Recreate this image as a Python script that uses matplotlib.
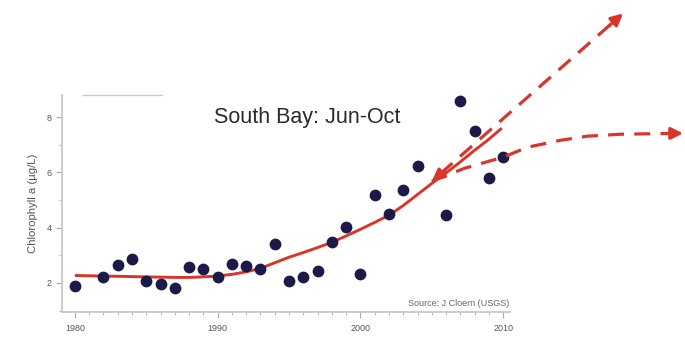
import matplotlib.pyplot as plt
from matplotlib.ticker import MultipleLocator

plt.rcParams['font.family'] = ['Liberation Sans', 'DejaVu Sans']

# yearly Jun-Oct means, South Bay
years = [1980, 1982, 1983, 1984, 1985, 1986, 1987, 1988, 1989, 1990,
         1991, 1992, 1993, 1994, 1995, 1996, 1997, 1998, 1999, 2000,
         2001, 2002, 2003, 2004, 2006, 2007, 2008, 2009, 2010]
chl = [1.88, 2.22, 2.64, 2.88, 2.08, 1.95, 1.82, 2.57, 2.52, 2.2,
       2.67, 2.62, 2.5, 3.41, 2.07, 2.2, 2.43, 3.47, 4.02, 2.34,
       5.18, 4.5, 5.38, 6.23, 4.45, 8.58, 7.5, 5.79, 6.54]

# smoothed trend
fit_years = [1980, 1981, 1982, 1983, 1984, 1985, 1986, 1987, 1988, 1989,
             1990, 1991, 1992, 1993, 1994, 1995, 1996, 1997, 1998, 1999,
             2000, 2001, 2002, 2003, 2004, 2005, 2006, 2007, 2008, 2009, 2009.9]
fit_vals = [2.27, 2.26, 2.25, 2.24, 2.23, 2.22, 2.21, 2.2, 2.2, 2.22,
            2.25, 2.31, 2.4, 2.53, 2.73, 2.93, 3.1, 3.28, 3.47, 3.7,
            3.94, 4.19, 4.45, 4.8, 5.2, 5.6, 5.98, 6.38, 6.8, 7.2, 7.6]

# future scenarios (drawn past the axes)
up_years = [2005.0, 2018.4]
up_vals = [5.68, 11.75]
flat_years = [2005.0, 2007.3, 2010.0, 2011.7, 2014.0, 2015.9, 2018.2, 2022.6]
flat_vals = [5.68, 6.15, 6.55, 6.91, 7.16, 7.31, 7.38, 7.41]

red = '#d8362b'
navy = '#1b1a48'

fig = plt.figure(figsize=(6.85, 3.38), dpi=100)
ax = fig.add_axes([0.0905, 0.077, 0.6545, 0.642])

ax.plot(fit_years, fit_vals, color=red, lw=2.1, zorder=3, solid_capstyle='butt')
ax.scatter(years, chl, s=72, color=navy, zorder=4, linewidths=0)

# dashed scenario lines, heads added separately so they stay solid
slope = (up_vals[1] - up_vals[0]) / (up_years[1] - up_years[0])
dash = dict(color=red, lw=2.3, dashes=(5, 3.2), zorder=5, clip_on=False)
ax.plot([up_years[0] + 0.6, up_years[1] - 0.5],
        [up_vals[0] + 0.6 * slope, up_vals[1] - 0.5 * slope], **dash)
ax.plot(flat_years[:-1] + [flat_years[-1] - 0.5], flat_vals, **dash)
head = dict(arrowstyle='-|>,head_length=0.7,head_width=0.35', color=red, lw=2.3,
            shrinkA=0, shrinkB=0)
ax.annotate('', xy=(up_years[-1], up_vals[-1]),
            xytext=(up_years[-1] - 1.0, up_vals[-1] - slope),
            arrowprops=head, annotation_clip=False, zorder=6)
ax.annotate('', xy=(flat_years[-1], flat_vals[-1]), xytext=(flat_years[-1] - 1.0, flat_vals[-1]),
            arrowprops=head, annotation_clip=False, zorder=6)
ax.annotate('', xy=(flat_years[0], flat_vals[0]), xytext=(flat_years[0] + 0.9, flat_vals[0] + 0.38),
            arrowprops=head, annotation_clip=False, zorder=6)

ax.set_xlim(1979.1, 2010.5)
ax.set_ylim(0.95, 8.8)
ax.xaxis.set_major_locator(MultipleLocator(10))
ax.xaxis.set_minor_locator(MultipleLocator(1))
ax.yaxis.set_major_locator(MultipleLocator(2))
ax.yaxis.set_minor_locator(MultipleLocator(1))
ax.tick_params(which='both', direction='out', color='#aaaaaa', labelsize=6.5,
               labelcolor='#555555')
ax.tick_params(which='major', length=4, width=0.8)
ax.tick_params(which='minor', length=2.5, width=0.6)
ax.tick_params(axis='x', pad=5)

for s in ['top', 'right']:
    ax.spines[s].set_visible(False)
for s in ['left', 'bottom']:
    ax.spines[s].set_color('#c4c4c4')
    ax.spines[s].set_linewidth(1.2)

ax.plot([0.047, 0.223], [1.0, 1.0], color='#c8c8c8', lw=1, transform=ax.transAxes,
        clip_on=False)

ax.set_ylabel('Chlorophyll a (µg/L)', fontsize=8.2, color='#555555', labelpad=6)
ax.text(0.548, 0.894, 'South Bay: Jun-Oct', transform=ax.transAxes, ha='center',
        va='center', fontsize=15.5, color='#2a2a2a')
ax.text(0.997, 0.04, 'Source: J Cloern (USGS)', transform=ax.transAxes, ha='right',
        va='center', fontsize=6.5, color='#666666')

fig.savefig('out.png', dpi=100)
